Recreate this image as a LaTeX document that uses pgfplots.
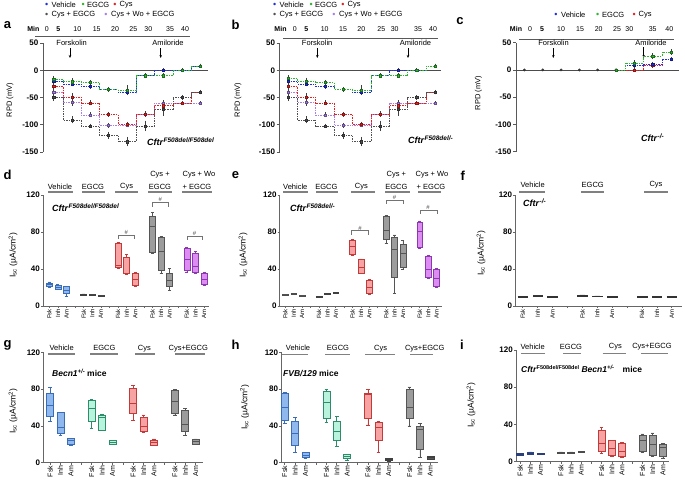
\documentclass[border=0pt]{standalone}
\usepackage{fontspec}
\setmainfont{Liberation Sans}
\usepackage{pgfplots}
\pgfplotsset{compat=1.18}
\usepgfplotslibrary{statistics}
\usetikzlibrary{arrows.meta}
\newcommand{\fs}[1]{\fontsize{#1}{#1}\selectfont}
\definecolor{cB}{HTML}{1F2FE0}
\definecolor{cG}{HTML}{2FB52F}
\definecolor{cR}{HTML}{E52222}
\definecolor{cK}{HTML}{505050}
\definecolor{cP}{HTML}{A880E8}
\definecolor{vD}{HTML}{3A6DB5}
\definecolor{vF}{HTML}{8FB9EE}
\definecolor{eD}{HTML}{2E8C6A}
\definecolor{eF}{HTML}{B8F3DD}
\definecolor{rD}{HTML}{C23B3B}
\definecolor{rF}{HTML}{F7A3A3}
\definecolor{gD}{HTML}{555555}
\definecolor{gF}{HTML}{9C9C9C}
\definecolor{pD}{HTML}{8B3AAE}
\definecolor{pF}{HTML}{DE8CF4}
\definecolor{nD}{HTML}{2A3F7A}
\definecolor{nF}{HTML}{5A7AC0}
\newcommand{\bx}[8]{\addplot[draw=#7, fill=#8, line width=0.55pt, boxplot prepared={draw position=#1, lower whisker=#2, lower quartile=#3, median=#4, upper quartile=#5, upper whisker=#6}] coordinates {};}
\newcommand{\grp}[6]{\node[font=\fs{7.5}, inner sep=0pt] at (#1,-#2) {#6}; \draw[black!50, line width=1.1pt] (#3,-#5) -- (#4,-#5);}
\newcommand{\brk}[5]{\draw[black!55, line width=0.5pt] (axis cs:#1,#4) -- (axis cs:#1,#3) -- (axis cs:#2,#3) -- (axis cs:#2,#4); \node[font=\fs{6}, inner sep=0.5pt, anchor=south, black!70] at (axis cs:#5,#3) {\#};}
\newcommand{\cftr}[1]{\textbf{\textit{Cftr}}\raisebox{3.2pt}{\fs{6.5}\textbf{\textit{#1}}}}
\pgfplotsset{
  rowone/.style={scale only axis, anchor=south west, height=109pt, ymin=-150, ymax=50,
    axis x line=none, axis y line=left, axis line style={-, black!65, line width=0.7pt},
    xtick=\empty, ytick={-150,-100,-50,0,50}, yticklabels={-150,-100,-50,0,50},
    yticklabel style={font=\fs{8}\bfseries, inner sep=1.5pt},
    tick style={black!65, line width=0.6pt}, tick align=outside, major tick length=3pt, clip=false},
  stp/.style={#1, const plot mark mid, dash pattern=on 1.5pt off 1pt, line width=0.45pt, mark=square*, mark size=1.1pt,
    mark options={solid, fill=#1, draw=#1!60!black},
    error bars/y dir=both, error bars/y explicit,
    error bars/error bar style={black!75, line width=0.4pt, solid},
    error bars/error mark options={black!75, mark size=1.4pt, line width=0.4pt, solid}},
  boxax/.style={scale only axis, anchor=south west, ymin=0, ymax=120, ytick={0,40,80,120},
    yticklabels={0,40,80,120}, axis x line=bottom, axis y line=left,
    axis line style={-, black!60, line width=0.7pt}, tick style={black!60, line width=0.6pt},
    tick align=outside, major tick length=2pt,
    yticklabel style={font=\fs{8}\bfseries, inner sep=1pt},
    xticklabel style={rotate=90, anchor=east, font=\fs{6}, inner sep=1pt},
    extra x tick labels={}, clip=false, boxplot/draw direction=y,
    boxplot/box extend=0.7, boxplot/whisker extend=0.35},
}
\begin{document}
\begin{tikzpicture}[x=1pt,y=1pt]
\useasboundingbox (0,0) rectangle (685,-483);
% ---------- panel letters
\node[font=\fs{13}\bfseries] at (7.5,-25) {a};
\node[font=\fs{13}\bfseries] at (235.5,-25) {b};
\node[font=\fs{13}\bfseries] at (460,-21) {c};
\node[font=\fs{13}\bfseries] at (7.5,-175) {d};
\node[font=\fs{13}\bfseries] at (235.5,-175) {e};
\node[font=\fs{13}\bfseries] at (462.7,-176) {f};
\node[font=\fs{13}\bfseries] at (7.5,-345) {g};
\node[font=\fs{13}\bfseries] at (235.5,-345) {h};
\node[font=\fs{13}\bfseries] at (462,-345) {i};
% ---------- legends row 1
\foreach \ox in {0,228}{
  \node[cB, inner sep=0, font=\fs{9}] at (46.7+\ox,-5) {\textbullet};
  \node[anchor=west, inner sep=0, font=\fs{7.5}] at (51.5+\ox,-5) {Vehicle};
  \node[cG, inner sep=0, font=\fs{9}] at (83.3+\ox,-5) {\textbullet};
  \node[anchor=west, inner sep=0, font=\fs{7.5}] at (87+\ox,-5) {EGCG};
  \node[cR, inner sep=0, font=\fs{9}] at (115+\ox,-5) {\textbullet};
  \node[anchor=west, inner sep=0, font=\fs{7.5}] at (119.5+\ox,-5) {Cys};
  \node[cK, inner sep=0, font=\fs{9}] at (46.7+\ox,-15) {\textbullet};
  \node[anchor=west, inner sep=0, font=\fs{7.5}] at (51.5+\ox,-15) {Cys + EGCG};
  \node[cP, inner sep=0, font=\fs{9}] at (106+\ox,-15) {\textbullet};
  \node[anchor=west, inner sep=0, font=\fs{7.5}] at (111+\ox,-15) {Cys + Wo + EGCG};
}
\node[cB, inner sep=0, font=\fs{9}] at (556,-15) {\textbullet};
\node[anchor=west, inner sep=0, font=\fs{7.5}] at (561,-15) {Vehicle};
\node[cG, inner sep=0, font=\fs{9}] at (597.7,-15) {\textbullet};
\node[anchor=west, inner sep=0, font=\fs{7.5}] at (602,-15) {EGCG};
\node[cR, inner sep=0, font=\fs{9}] at (634.3,-15) {\textbullet};
\node[anchor=west, inner sep=0, font=\fs{7.5}] at (638.5,-15) {Cys};
% ---------- Min headers
\node[font=\fs{7}\bfseries] at (33.3,-29.3) {Min};
\foreach \px/\tl in {46.7/0, 58.3/\textbf{5}, 77.3/10, 96.7/15, 115/20, 133.3/25, 148.3/30, 170/35, 185/40}
  \node[font=\fs{7}] at (\px,-29.3) {\tl};
\draw[black!65, line width=0.8pt] (35,-36) -- (190,-36);
\node[font=\fs{7}\bfseries] at (280.5,-29.3) {Min};
\foreach \px/\tl in {294.7/0, 306.3/\textbf{5}, 324.7/10, 343/15, 361.3/20, 381.3/25, 394.7/30, 418/35, 433/40}
  \node[font=\fs{7}] at (\px,-29.3) {\tl};
\draw[black!65, line width=0.8pt] (283,-38) -- (438,-38);
\node[font=\fs{7}\bfseries] at (516,-29.3) {Min};
\foreach \px/\tl in {530/0, 542/\textbf{5}, 561/10, 580/15, 598.7/20, 617/25, 629.3/30, 652.7/35, 669.3/40}
  \node[font=\fs{7}] at (\px,-29.3) {\tl};
\draw[black!65, line width=0.8pt] (519,-39) -- (674,-39);
% Forskolin / Amiloride
\node[font=\fs{7.5}] at (71.7,-43.3) {Forskolin};
\draw[-{Stealth[length=3pt,width=2.5pt]}, line width=0.6pt] (70,-48) -- (70,-58);
\node[font=\fs{7.5}] at (168,-43.3) {Amiloride};
\draw[-{Stealth[length=3pt,width=2.5pt]}, line width=0.6pt] (160.7,-48) -- (160.7,-58);
\node[font=\fs{7.5}] at (317.2,-43.3) {Forskolin};
\draw[-{Stealth[length=3pt,width=2.5pt]}, line width=0.6pt] (317.3,-48) -- (317.3,-58);
\node[font=\fs{7.5}] at (415.5,-43.3) {Amiloride};
\draw[-{Stealth[length=3pt,width=2.5pt]}, line width=0.6pt] (408,-48) -- (408,-58);
\node[font=\fs{7.5}] at (553.5,-43.3) {Forskolin};
\draw[-{Stealth[length=3pt,width=2.5pt]}, line width=0.6pt] (553.3,-48) -- (553.3,-58);
\node[font=\fs{7.5}] at (651,-43.3) {Amiloride};
\draw[-{Stealth[length=3pt,width=2.5pt]}, line width=0.6pt] (643.7,-47) -- (643.7,-58);
% y labels
\node[rotate=90, font=\fs{7.5}] at (10,-100) {RPD (mV)};
\node[rotate=90, font=\fs{7.5}] at (238,-100) {RPD (mV)};
\node[rotate=90, font=\fs{7.5}] at (478.5,-93.3) {RPD (mV)};
\node[rotate=90, font=\fs{8.5}] at (13,-255) {I\textsubscript{sc} (µA/cm\textsuperscript{2})};
\node[rotate=90, font=\fs{8.5}] at (243,-255) {I\textsubscript{sc} (µA/cm\textsuperscript{2})};
\node[rotate=90, font=\fs{8.5}] at (481,-253) {I\textsubscript{sc} (µA/cm\textsuperscript{2})};
\node[rotate=90, font=\fs{8.5}] at (13,-411) {I\textsubscript{sc} (µA/cm\textsuperscript{2})};
\node[rotate=90, font=\fs{8.5}] at (244.7,-407) {I\textsubscript{sc} (µA/cm\textsuperscript{2})};
\node[rotate=90, font=\fs{8.5}] at (471,-405) {I\textsubscript{sc} (µA/cm\textsuperscript{2})};
% genotype labels
\node[anchor=west, inner sep=0, font=\fs{9}] at (147,-142) {\cftr{F508del/F508del}};
\node[anchor=west, inner sep=0, font=\fs{9}] at (408,-140) {\cftr{F508del/-}};
\node[anchor=west, inner sep=0, font=\fs{9}] at (641,-138) {\cftr{-/-}};
\node[anchor=west, inner sep=0, font=\fs{9}] at (52,-208) {\cftr{F508del/F508del}};
\node[anchor=west, inner sep=0, font=\fs{9}] at (290,-208) {\cftr{F508del/-}};
\node[anchor=west, inner sep=0, font=\fs{9}] at (523,-203) {\cftr{-/-}};
\node[anchor=west, inner sep=0, font=\fs{8.5}] at (52,-372.7) {\textbf{\textit{Becn1}}\raisebox{3pt}{\fs{6}\textbf{\textit{+/-}}} \textbf{mice}};
\node[anchor=west, inner sep=0, font=\fs{8.5}] at (283,-373.3) {\textbf{\textit{FVB/129}} \textbf{mice}};
\node[anchor=west, inner sep=0, font=\fs{8.5}] at (521,-369.3) {\textbf{\textit{Cftr}}\raisebox{3pt}{\fs{5.5}\textbf{F508del/F508del}} \textbf{\textit{Becn1}}\raisebox{3pt}{\fs{6}\textbf{\textit{+/-}}}\quad\textbf{mice}};
% group headers row 2
\grp{60}{186.7}{48}{73}{192}{Vehicle}
\grp{93}{186.7}{82}{105}{192}{EGCG}
\grp{126.7}{186.7}{115}{138}{192}{Cys}
\grp{160}{186.7}{148}{172}{192}{EGCG}
\node[font=\fs{7.5}, inner sep=0pt] at (160,-175) {Cys +};
\grp{197}{186.7}{182}{212}{192}{+ EGCG}
\node[font=\fs{7.5}, inner sep=0pt] at (199,-175) {Cys + Wo};
\grp{295.3}{186.7}{283}{308}{192}{Vehicle}
\grp{326.3}{186.7}{316}{338}{192}{EGCG}
\grp{361.3}{186.7}{351}{375}{192}{Cys}
\grp{396.3}{186.7}{385}{410}{192}{EGCG}
\node[font=\fs{7.5}, inner sep=0pt] at (396.3,-175) {Cys +};
\grp{431}{186.7}{418}{441}{192}{+ EGCG}
\node[font=\fs{7.5}, inner sep=0pt] at (432,-175) {Cys + Wo};
\grp{532.7}{185}{519}{545}{192}{Vehicle}
\grp{592.7}{185}{581}{604}{192}{EGCG}
\grp{656}{185}{644}{668}{192}{Cys}
% group headers row 3
\grp{61.7}{348.3}{48}{75}{354}{Vehicle}
\grp{104.3}{348.3}{90}{118}{354}{EGCG}
\grp{144.3}{348.3}{135}{155}{354}{Cys}
\grp{188.3}{348.3}{175}{205}{354}{Cys+EGCG}
\grp{298}{348.3}{281}{308}{354.3}{Vehicle}
\grp{338}{348.3}{325}{350}{354.3}{EGCG}
\grp{380.7}{348.3}{365}{395}{354.3}{Cys}
\grp{424.7}{348.3}{410}{433}{354.3}{Cys+EGCG}
\grp{532.7}{346.7}{521}{545}{353.3}{Vehicle}
\grp{571}{346.7}{563}{581}{353.3}{EGCG}
\grp{615.3}{346.7}{602.7}{626}{353.3}{Cys}
\grp{652}{346.7}{641}{668}{353.3}{Cys+EGCG}

% ================= ROW 1 =================
\begin{axis}[rowone, at={(43pt,-152pt)}, width=165.3pt, xmin=-2.9, xmax=42.2]
\draw[black!70, line width=0.7pt] (rel axis cs:0,0.75) -- (rel axis cs:1,0.75);
\addplot[stp=cP] coordinates {(0,-40) +- (0,3) (5,-59) +- (0,4) (10,-82) +- (0,2) (15,-101) +- (0,2) (20,-100) +- (0,2) (25,-81) +- (0,2) (30,-60) +- (0,2) (35,-60) +- (0,1) (40,-60) +- (0,1)};
\addplot[stp=cR] coordinates {(0,-30) +- (0,1.5) (5,-49) +- (0,4) (10,-60) +- (0,2) (15,-81) +- (0,1.5) (20,-99) +- (0,2) (25,-80) +- (0,2) (30,-65) +- (0,3) (35,-60) +- (0,1.5) (40,-40) +- (0,1.5)};
\addplot[stp=cK] coordinates {(0,-50) +- (0,4) (5,-91) +- (0,4) (10,-102) +- (0,1.5) (15,-119) +- (0,4) (20,-131) +- (0,6) (25,-102) +- (0,7) (30,-72) +- (0,9) (35,-50) +- (0,1.5) (40,-40) +- (0,1.5)};
\addplot[stp=cB] coordinates {(0,-20) +- (0,2) (5,-25) +- (0,2) (10,-30) +- (0,1.5) (15,-35) +- (0,1.5) (20,-41) +- (0,2) (25,-10) +- (0,1.5) (30,0) +- (0,1) (35,0) +- (0,1) (40,8) +- (0,1.5)};
\addplot[stp=cG] coordinates {(0,-16) +- (0,3) (5,-21) +- (0,4) (10,-22) +- (0,2) (15,-35) +- (0,2) (20,-36) +- (0,6) (25,-10) +- (0,2) (30,-10) +- (0,1.5) (35,0) +- (0,1) (40,8) +- (0,1.5)};
\end{axis}

\begin{axis}[rowone, at={(279.7pt,-152pt)}, width=161.6pt, xmin=-2.3, xmax=41.7]
\draw[black!70, line width=0.7pt] (rel axis cs:0,0.75) -- (rel axis cs:1,0.75);
\addplot[stp=cP] coordinates {(0,-40) +- (0,3) (5,-59) +- (0,4) (10,-82) +- (0,2) (15,-101) +- (0,2) (20,-100) +- (0,2) (25,-81) +- (0,2) (30,-60) +- (0,2) (35,-60) +- (0,1) (40,-60) +- (0,1)};
\addplot[stp=cR] coordinates {(0,-30) +- (0,1.5) (5,-49) +- (0,4) (10,-60) +- (0,2) (15,-81) +- (0,1.5) (20,-99) +- (0,2) (25,-80) +- (0,2) (30,-65) +- (0,3) (35,-60) +- (0,1.5) (40,-40) +- (0,1.5)};
\addplot[stp=cK] coordinates {(0,-50) +- (0,4) (5,-91) +- (0,4) (10,-102) +- (0,1.5) (15,-119) +- (0,4) (20,-131) +- (0,6) (25,-102) +- (0,7) (30,-72) +- (0,9) (35,-50) +- (0,1.5) (40,-40) +- (0,1.5)};
\addplot[stp=cB] coordinates {(0,-20) +- (0,2) (5,-25) +- (0,2) (10,-30) +- (0,1.5) (15,-35) +- (0,1.5) (20,-41) +- (0,2) (25,-10) +- (0,1.5) (30,0) +- (0,1) (35,0) +- (0,1) (40,8) +- (0,1.5)};
\addplot[stp=cG] coordinates {(0,-15) +- (0,3) (5,-20) +- (0,4) (10,-22) +- (0,2) (15,-35) +- (0,2) (20,-36) +- (0,6) (25,-10) +- (0,2) (30,-10) +- (0,1.5) (35,0) +- (0,1) (40,8) +- (0,1.5)};
\end{axis}

\begin{axis}[rowone, at={(516pt,-151.7pt)}, width=163pt, xmin=-2.3, xmax=42.2]
\draw[black!70, line width=0.7pt] (rel axis cs:0,0.75) -- (rel axis cs:1,0.75);
\addplot[only marks, mark=*, mark size=1.2pt, black!80] coordinates {(0,0) (5,0) (10,0) (15,0) (20,0) (25,0)};
\addplot[stp=cR] coordinates {(25,0) +- (0,0) (30,0) +- (0,1) (35,8) +- (0,1.5) (40,20) +- (0,1.5)};
\addplot[stp=cB] coordinates {(25,0) +- (0,0) (30,8) +- (0,1) (35,10) +- (0,2) (40,20) +- (0,1.5)};
\addplot[stp=cG] coordinates {(25,0) +- (0,0) (30,13) +- (0,2) (35,25) +- (0,3) (40,33) +- (0,3)};
\end{axis}

% ================= ROW 2 =================
\begin{axis}[boxax, at={(43pt,-306pt)}, width=166.2pt, height=111pt, xmin=-0.73, xmax=18.6,
  xtick={0,1,2,4,5,6,8,9,10,12,13,14,16,17,18},
  xticklabels={Fsk,Inh,Am,Fsk,Inh,Am,Fsk,Inh,Am,Fsk,Inh,Am,Fsk,Inh,Am},
  extra x ticks={3,7,11,15}]
\bx{0}{20.5}{21.5}{23.5}{25}{26}{vD}{vF}
\bx{1}{18}{18.5}{20.5}{22.5}{23}{vD}{vF}
\bx{2}{10}{13.5}{17.5}{21}{21.5}{vD}{vF}
\bx{4}{12}{12}{12.5}{13}{13}{black!75}{black!55}
\bx{5}{11.5}{11.5}{12}{12.5}{12.5}{black!75}{black!55}
\bx{6}{10.5}{10.5}{11}{11.5}{11.5}{black!75}{black!55}
\bx{8}{41}{42}{44}{67.5}{68.5}{rD}{rF}
\bx{9}{34}{35}{35.5}{53}{56}{rD}{rF}
\bx{10}{21}{22}{28.5}{35}{36}{rD}{rF}
\bx{12}{57}{58}{86}{97}{101}{gD}{gF}
\bx{13}{35}{39}{59}{74}{75}{gD}{gF}
\bx{14}{17}{21}{28}{35}{41}{gD}{gF}
\bx{16}{37}{39}{50.5}{62}{63}{pD}{pF}
\bx{17}{35}{36}{43}{57}{59}{pD}{pF}
\bx{18}{22}{23}{29}{35}{36}{pD}{pF}
\brk{8}{9.9}{76.8}{72.5}{8.95}
\brk{12}{13.8}{111.7}{107.5}{12.9}
\brk{16}{17.8}{75.7}{71.5}{16.9}
\end{axis}

\begin{axis}[boxax, at={(279.7pt,-306pt)}, width=161.9pt, height=111pt, xmin=-0.67, xmax=18.6,
  xtick={0,1,2,4,5,6,8,9,10,12,13,14,16,17,18},
  xticklabels={Fsk,Inh,Am,Fsk,Inh,Am,Fsk,Inh,Am,Fsk,Inh,Am,Fsk,Inh,Am},
  extra x ticks={3,7,11,15}]
\bx{0}{11.5}{11.5}{12}{12.5}{12.5}{black!70}{black!50}
\bx{1}{13}{13}{13.5}{14}{14}{black!70}{black!50}
\bx{2}{10.5}{10.5}{11}{11.5}{11.5}{black!70}{black!50}
\bx{4}{9.5}{9.5}{10}{10.5}{10.5}{black!75}{black!55}
\bx{5}{13}{13}{13.5}{14}{14}{black!75}{black!55}
\bx{6}{14}{14}{14.5}{15}{15}{black!75}{black!55}
\bx{8}{55}{55.5}{65}{71}{72}{rD}{rF}
\bx{9}{35}{35.5}{42}{50.5}{51}{rD}{rF}
\bx{10}{13}{14}{20}{28}{29}{rD}{rF}
\bx{12}{68}{72}{82}{97}{98}{gD}{gF}
\bx{13}{14}{31}{61}{74}{77}{gD}{gF}
\bx{14}{40}{42}{57}{67}{71}{gD}{gF}
\bx{16}{62}{64}{81}{91}{92}{pD}{pF}
\bx{17}{30}{31}{40}{54}{55}{pD}{pF}
\bx{18}{20}{21}{30}{40}{41}{pD}{pF}
\brk{7.9}{9.9}{81.4}{77}{8.9}
\brk{12}{14}{114.6}{110.5}{13}
\brk{16}{18.1}{103.8}{99.5}{17}
\end{axis}

\begin{axis}[boxax, at={(515.3pt,-306pt)}, width=166.9pt, height=111pt, xmin=-0.5, xmax=10.7,
  xtick={0,1,2,4,5,6,8,9,10},
  xticklabels={Fsk,Inh,Am,Fsk,Inh,Am,Fsk,Inh,Am},
  extra x ticks={3,7}, boxplot/box extend=0.65]
\bx{0}{9.5}{9.5}{10}{10.5}{10.5}{black!80}{black!60}
\bx{1}{10.5}{10.5}{11}{11.5}{11.5}{black!80}{black!60}
\bx{2}{9.5}{9.5}{10}{10.5}{10.5}{black!80}{black!60}
\bx{4}{11}{11}{11.5}{12}{12}{black!80}{black!60}
\bx{5}{10}{10}{10.5}{11}{11}{black!80}{black!60}
\bx{6}{9.5}{9.5}{10}{10.5}{10.5}{black!80}{black!60}
\bx{8}{9}{9}{9.5}{10}{10}{black!80}{black!60}
\bx{9}{9.5}{9.5}{10}{10.5}{10.5}{black!80}{black!60}
\bx{10}{9.5}{9.5}{10}{10.5}{10.5}{black!80}{black!60}
\end{axis}

% ================= ROW 3 =================
\begin{axis}[boxax, at={(43.3pt,-462.7pt)}, width=159.6pt, height=110.4pt, xmin=-0.65, xmax=14.7,
  xtick={0,1,2,4,5,6,8,9,10,12,13,14},
  xticklabels={Fsk,Inh,Am,Fsk,Inh,Am,Fsk,Inh,Am,Fsk,Inh,Am},
  xticklabel style={font=\fs{7}},
  extra x ticks={3,7,11}, boxplot/box extend=0.67]
\bx{0}{45}{50}{62}{76}{82}{vD}{vF}
\bx{1}{30}{32.5}{38.5}{54.5}{55}{vD}{vF}
\bx{2}{19}{20.3}{23.9}{26.4}{26.5}{vD}{vF}
\bx{4}{37}{45.5}{59.5}{68}{68.5}{eD}{eF}
\bx{5}{35}{35.5}{49}{51.8}{53}{eD}{eF}
\bx{6}{20}{20.3}{22}{23.9}{24}{eD}{eF}
\bx{8}{46}{53.5}{65}{80.5}{84}{rD}{rF}
\bx{9}{33}{33.7}{40}{48.9}{52}{rD}{rF}
\bx{10}{19}{19.2}{21.7}{24}{26}{rD}{rF}
\bx{12}{52}{53.6}{67}{79}{79.5}{gD}{gF}
\bx{13}{30}{33.7}{42}{57}{59}{gD}{gF}
\bx{14}{20}{20.3}{22.8}{25.3}{26}{gD}{gF}
\end{axis}

\begin{axis}[boxax, at={(281.3pt,-462.7pt)}, width=156.3pt, height=110.4pt, xmin=-0.33, xmax=14.7,
  xtick={0,1,2,4,5,6,8,9,10,12,13,14},
  xticklabels={Fsk,Inh,Am,Fsk,Inh,Am,Fsk,Inh,Am,Fsk,Inh,Am},
  xticklabel style={font=\fs{7}},
  extra x ticks={3,7,11}, boxplot/box extend=0.67]
\bx{0}{43}{46}{60}{76}{76.5}{vD}{vF}
\bx{1}{11}{19}{32.5}{45.5}{49}{vD}{vF}
\bx{2}{5}{5.8}{8.3}{10.9}{11}{vD}{vF}
\bx{4}{44}{48}{66}{78}{79.5}{eD}{eF}
\bx{5}{18}{24}{34.5}{45}{50}{eD}{eF}
\bx{6}{3}{4.7}{7.2}{9}{9.5}{eD}{eF}
\bx{8}{41}{48}{74.5}{76}{80}{rD}{rF}
\bx{9}{11}{24}{38}{44}{45}{rD}{rF}
\bx{10}{2}{2.2}{3.6}{4.7}{5}{black!75}{rD}
\bx{12}{40}{48}{60}{79.5}{82.5}{gD}{gF}
\bx{13}{5.5}{14.5}{36}{40}{42.5}{gD}{gF}
\bx{14}{4}{4}{5.4}{6.5}{6.5}{black!75}{gD}
\end{axis}

\begin{axis}[boxax, at={(516pt,-461.7pt)}, width=153pt, height=111.7pt, xmin=-0.4, xmax=14.6,
  xtick={0,1,2,4,5,6,8,9,10,12,13,14},
  xticklabels={Fsk,Inh,Am,Fsk,Inh,Am,Fsk,Inh,Am,Fsk,Inh,Am},
  xticklabel style={font=\fs{7}},
  extra x ticks={3,7,11}, boxplot/box extend=0.67]
\bx{0}{7}{7.1}{8}{8.9}{9}{nD}{nF}
\bx{1}{7.9}{8}{9.5}{10.4}{10.5}{nD}{nF}
\bx{2}{7.5}{7.5}{8.2}{8.9}{9}{nD}{nF}
\bx{4}{9.5}{9.5}{10}{10.5}{10.5}{black!70}{black!50}
\bx{5}{9.5}{9.5}{10}{10.5}{10.5}{black!70}{black!50}
\bx{6}{10.5}{10.5}{11}{11.5}{11.5}{black!70}{black!50}
\bx{8}{9}{10.7}{19.6}{34}{37}{rD}{rF}
\bx{9}{6}{7.1}{14.3}{22.5}{23}{rD}{rF}
\bx{10}{5}{5.4}{10.7}{19.6}{21}{rD}{rF}
\bx{12}{10}{11.4}{23.2}{28.6}{30}{gD}{gF}
\bx{13}{6}{7.1}{18.9}{28.6}{31}{gD}{gF}
\bx{14}{4}{5.4}{15.4}{18.9}{20}{gD}{gF}
\end{axis}
\end{tikzpicture}
\end{document}
